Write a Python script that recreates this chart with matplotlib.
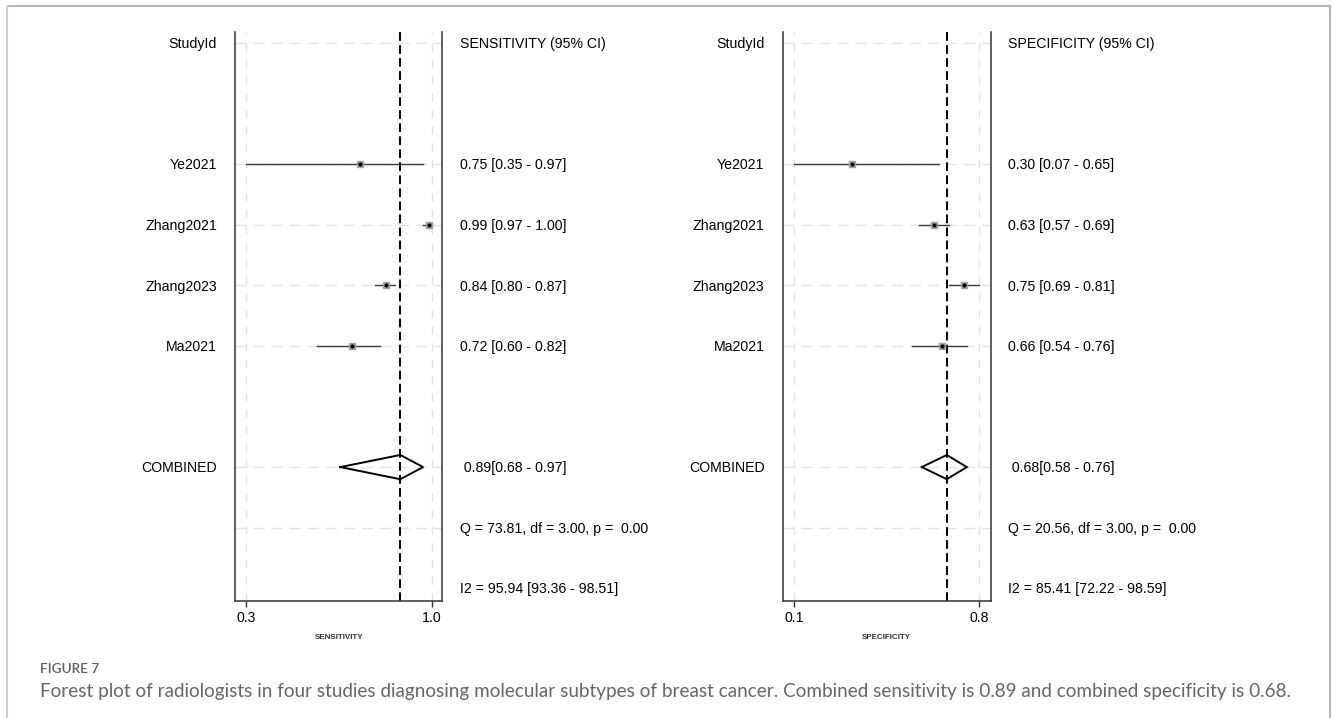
import matplotlib
matplotlib.use("Agg")
import matplotlib.pyplot as plt
from matplotlib.lines import Line2D
from matplotlib.transforms import blended_transform_factory

plt.rcParams['font.family'] = ['Liberation Sans', 'DejaVu Sans']

# ---------------- data ----------------
studies = ["Ye2021", "Zhang2021", "Zhang2023", "Ma2021"]
study_rows = [2, 3, 4, 5]

sens = [0.75, 0.99, 0.84, 0.72]
sens_lo = [0.35, 0.97, 0.80, 0.60]
sens_hi = [0.97, 1.00, 0.87, 0.82]
sens_comb = [0.89, 0.68, 0.97]          # estimate, lower, upper
sens_ticks = [0.35, 1.00]
sens_ticklabels = ["0.3", "1.0"]
sens_xlim = [0.3115, 1.037]
sens_labels = ["0.75 [0.35 - 0.97]", "0.99 [0.97 - 1.00]",
               "0.84 [0.80 - 0.87]", "0.72 [0.60 - 0.82]"]
sens_comb_label = " 0.89[0.68 - 0.97]"
sens_q = "Q = 73.81, df = 3.00, p =  0.00"
sens_i2 = "I2 = 95.94 [93.36 - 98.51]"

spec = [0.30, 0.63, 0.75, 0.66]
spec_lo = [0.07, 0.57, 0.69, 0.54]
spec_hi = [0.65, 0.69, 0.81, 0.76]
spec_comb = [0.68, 0.58, 0.76]
spec_ticks = [0.07, 0.81]
spec_ticklabels = ["0.1", "0.8"]
spec_xlim = [0.0236, 0.8556]
spec_labels = ["0.30 [0.07 - 0.65]", "0.63 [0.57 - 0.69]",
               "0.75 [0.69 - 0.81]", "0.66 [0.54 - 0.76]"]
spec_comb_label = " 0.68[0.58 - 0.76]"
spec_q = "Q = 20.56, df = 3.00, p =  0.00"
spec_i2 = "I2 = 85.41 [72.22 - 98.59]"

header_row = 0
comb_row = 7
q_row = 8
i2_row = 9

caption_head = "FIGURE 7"
caption = ("Forest plot of radiologists in four studies diagnosing molecular subtypes of breast "
           "cancer. Combined sensitivity is 0.89 and combined specificity is 0.68.")

# ---------------- figure ----------------
W, H = 1333, 718
fig = plt.figure(figsize=(W / 100, H / 100), dpi=100)


def px_axes(x0, x1, ytop, ybot):
    return fig.add_axes([x0 / W, 1 - ybot / H, (x1 - x0) / W, (ybot - ytop) / H])


def panel(ax, est, lo, hi, comb, ticks, ticklabels, xlim, labels, comb_label,
          qtxt, i2txt, header, xlabel):
    ax.set_xlim(*xlim)
    ax.set_ylim(9.21, -0.18)
    grid_c = "#e4e4e4"
    # vertical grid at ticks
    for t in ticks:
        ax.axvline(t, color=grid_c, lw=1.0, ls=(0, (6, 6)), zorder=0)
    # horizontal grid at rows with content
    for r in [header_row] + study_rows + [comb_row, q_row]:
        ax.axhline(r, color=grid_c, lw=1.0, ls=(0, (8, 5)), zorder=0)

    # study estimates
    for r, e, l, h in zip(study_rows, est, lo, hi):
        ax.plot([l, h], [r, r], color="#3a3a3a", lw=1.0, zorder=2)
        ax.plot(e, r, marker="s", ms=5.0, color="#a0a0a0", mec="#a0a0a0", zorder=3)
        ax.plot(e, r, marker="o", ms=2.0, color="black", mec="black", zorder=4)

    # combined diamond
    ce, cl, ch = comb
    hh = 0.2
    ax.plot([cl, ce, ch, ce, cl], [comb_row, comb_row - hh, comb_row, comb_row + hh, comb_row],
            color="black", lw=1.4, zorder=3, solid_joinstyle="miter")

    # dashed line at combined estimate
    ax.axvline(ce, color="black", lw=1.4, ls=(0, (4.5, 2.2)), zorder=2)

    # spines
    ax.spines["top"].set_visible(False)
    for s in ["left", "right", "bottom"]:
        ax.spines[s].set_color("#333333")
        ax.spines[s].set_linewidth(1.1)
    ax.set_yticks([])
    ax.set_xticks(ticks)
    ax.set_xticklabels(ticklabels, fontsize=10.2)
    ax.tick_params(axis="x", length=4.5, width=1.0, color="#333333", pad=3)
    ax.set_xlabel(xlabel, fontsize=5.8, labelpad=6, fontweight="bold", color="#333333")

    tr = blended_transform_factory(ax.transAxes, ax.transData)
    xl = -0.087
    xr = 1.085
    fs = 10.2
    kw = dict(transform=tr, va="center", fontsize=fs)
    ax.text(xl, header_row + 0.02, "StudyId", ha="right", **kw)
    ax.text(xr, header_row + 0.02, header, ha="left", **kw)
    for r, s, lab in zip(study_rows, studies, labels):
        ax.text(xl, r + 0.02, s, ha="right", **kw)
        ax.text(xr, r + 0.02, lab, ha="left", **kw)
    ax.text(xl, comb_row + 0.02, "COMBINED", ha="right", **kw)
    ax.text(xr, comb_row + 0.02, comb_label, ha="left", **kw)
    ax.text(xr, q_row + 0.02, qtxt, ha="left", **kw)
    ax.text(xr, i2_row + 0.02, i2txt, ha="left", **kw)


ax1 = px_axes(235, 442.3, 32, 601)
panel(ax1, sens, sens_lo, sens_hi, sens_comb, sens_ticks, sens_ticklabels, sens_xlim,
      sens_labels, sens_comb_label, sens_q, sens_i2, "SENSITIVITY (95% CI)", "SENSITIVITY")

ax2 = px_axes(782.7, 990.7, 32, 601)
panel(ax2, spec, spec_lo, spec_hi, spec_comb, spec_ticks, spec_ticklabels, spec_xlim,
      spec_labels, spec_comb_label, spec_q, spec_i2, "SPECIFICITY (95% CI)", "SPECIFICITY")

# border (open at bottom)
bc = "#b4b4bc"
fig.add_artist(Line2D([7 / W, 1330 / W], [1 - 6 / H, 1 - 6 / H], color=bc, lw=1.5, transform=fig.transFigure))
fig.add_artist(Line2D([7 / W, 7 / W], [1 - 6 / H, 0], color="#cfcfd4", lw=1.5, transform=fig.transFigure))
fig.add_artist(Line2D([1330 / W, 1330 / W], [1 - 6 / H, 0], color=bc, lw=1.5, transform=fig.transFigure))

# caption
fig.text(40 / W, 1 - 669 / H, caption_head, fontsize=9.8, color="#5b5f66", ha="left", va="center",
         family=["Lato", "DejaVu Sans"], fontweight="semibold")
fig.text(40 / W, 1 - 692 / H, caption, fontsize=13.6, color="#666666", ha="left", va="center",
         family=["Lato", "DejaVu Sans"])

fig.savefig("out.png", dpi=100)
